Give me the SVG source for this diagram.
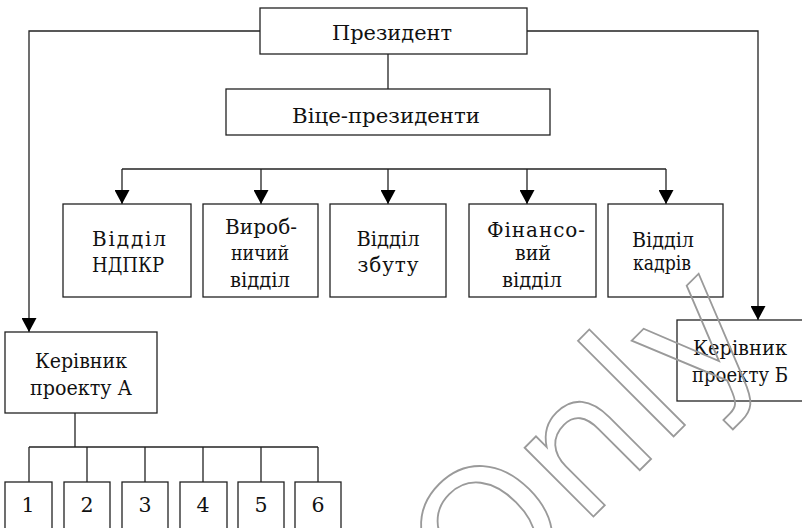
<svg xmlns="http://www.w3.org/2000/svg" width="802" height="528" viewBox="0 0 802 528">
  <defs>
    <marker id="arr" markerUnits="userSpaceOnUse" markerWidth="15" markerHeight="15" refX="14" refY="7.5" orient="auto">
      <path d="M0,0 L14,7.5 L0,15 z" fill="#000"/>
    </marker>
    <style>
      rect.box { fill: #fff; stroke: #222; stroke-width: 1.3; }
      .conn path, .conn line { fill: none; stroke: #222; stroke-width: 1.3; }
      text { font-family: 'DejaVu Serif', serif; fill: #111; text-anchor: middle; font-size: 20px; }
      .big { font-size: 20.5px; }
      .num { font-size: 20.5px; }
      text.wm { font-family: 'DejaVu Sans', sans-serif; font-size: 178px; fill: none; stroke: #9a9a9a; stroke-width: 1.8; text-anchor: start; }
    </style>
  </defs>
  <rect width="802" height="528" fill="#fff"/>

  <g class="conn" id="connectors">
    <path d="M260,31 H29 V332" marker-end="url(#arr)"/>
    <path d="M527,31 H758 V320" marker-end="url(#arr)"/>
    <line x1="388" y1="54" x2="388" y2="89"/>
    <line x1="122" y1="169" x2="666" y2="169"/>
    <path d="M122,169 V204" marker-end="url(#arr)"/>
    <path d="M261,169 V204" marker-end="url(#arr)"/>
    <path d="M388,169 V204" marker-end="url(#arr)"/>
    <path d="M527,169 V204" marker-end="url(#arr)"/>
    <path d="M666,169 V204" marker-end="url(#arr)"/>
    <line x1="75" y1="413" x2="75" y2="447"/>
    <line x1="29" y1="447" x2="318" y2="447"/>
    <line x1="29" y1="447" x2="29" y2="482"/>
    <line x1="87" y1="447" x2="87" y2="482"/>
    <line x1="145" y1="447" x2="145" y2="482"/>
    <line x1="203" y1="447" x2="203" y2="482"/>
    <line x1="261" y1="447" x2="261" y2="482"/>
    <line x1="318" y1="447" x2="318" y2="482"/>
  </g>

  <g id="president">
    <rect class="box" x="260" y="8" width="267" height="46"/>
    <text class="big" x="392" y="40" textLength="120" lengthAdjust="spacingAndGlyphs">Президент</text>
  </g>
  <g id="vice">
    <rect class="box" x="226" y="89" width="324" height="46"/>
    <text class="big" x="386" y="123" textLength="188" lengthAdjust="spacingAndGlyphs">Віце-президенти</text>
  </g>

  <g id="dept1">
    <rect class="box" x="63" y="204" width="128" height="93"/>
    <text x="129" y="246" textLength="74" lengthAdjust="spacing">Відділ</text>
    <text x="128" y="272" textLength="72" lengthAdjust="spacingAndGlyphs">НДПКР</text>
  </g>
  <g id="dept2">
    <rect class="box" x="203" y="204" width="115" height="93"/>
    <text x="261" y="234" textLength="72" lengthAdjust="spacing">Вироб-</text>
    <text x="260" y="260" textLength="58" lengthAdjust="spacingAndGlyphs">ничий</text>
    <text x="260" y="287" textLength="60" lengthAdjust="spacingAndGlyphs">відділ</text>
  </g>
  <g id="dept3">
    <rect class="box" x="330" y="204" width="116" height="93"/>
    <text x="388" y="246" textLength="63" lengthAdjust="spacingAndGlyphs">Відділ</text>
    <text x="388" y="272" textLength="61" lengthAdjust="spacing">збуту</text>
  </g>
  <g id="dept4">
    <rect class="box" x="469" y="204" width="127" height="93"/>
    <text x="536" y="237" textLength="98" lengthAdjust="spacing">Фінансо-</text>
    <text x="533" y="260" textLength="36" lengthAdjust="spacingAndGlyphs">вий</text>
    <text x="532" y="287" textLength="60" lengthAdjust="spacingAndGlyphs">відділ</text>
  </g>
  <g id="dept5">
    <rect class="box" x="608" y="204" width="115" height="93"/>
    <text x="663" y="247" textLength="62" lengthAdjust="spacingAndGlyphs">Відділ</text>
    <text x="662" y="270" textLength="58" lengthAdjust="spacingAndGlyphs">кадрів</text>
  </g>

  <g id="managerA">
    <rect class="box" x="5" y="332" width="152" height="81"/>
    <text x="81" y="368" textLength="92" lengthAdjust="spacingAndGlyphs">Керівник</text>
    <text x="81" y="395" textLength="102" lengthAdjust="spacingAndGlyphs">проекту А</text>
  </g>
  <g id="managerB">
    <rect class="box" x="677" y="320" width="140" height="81"/>
    <text x="740" y="355" textLength="94" lengthAdjust="spacingAndGlyphs">Керівник</text>
    <text x="740" y="382" textLength="96" lengthAdjust="spacingAndGlyphs">проекту Б</text>
  </g>

  <g id="p1"><rect class="box" x="5" y="482" width="47" height="60"/><text class="num" x="28" y="512">1</text></g>
  <g id="p2"><rect class="box" x="64" y="482" width="46" height="60"/><text class="num" x="87" y="512">2</text></g>
  <g id="p3"><rect class="box" x="122" y="482" width="46" height="60"/><text class="num" x="145" y="512">3</text></g>
  <g id="p4"><rect class="box" x="180" y="482" width="47" height="60"/><text class="num" x="203" y="512">4</text></g>
  <g id="p5"><rect class="box" x="238" y="482" width="46" height="60"/><text class="num" x="261" y="512">5</text></g>
  <g id="p6"><rect class="box" x="295" y="482" width="46" height="60"/><text class="num" x="318" y="512">6</text></g>

  <text class="wm" transform="translate(483,627) rotate(-45)">Only</text>
</svg>
